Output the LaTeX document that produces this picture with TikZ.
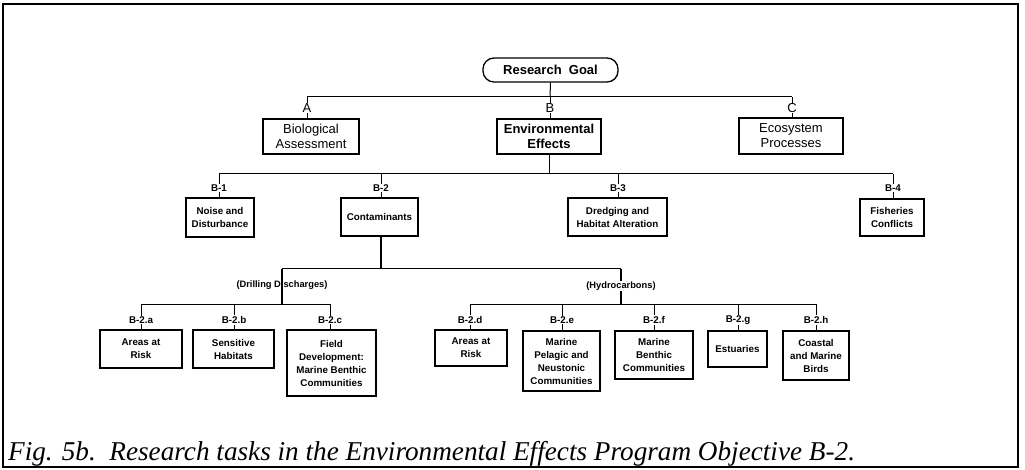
\documentclass[tikz,border=0pt]{standalone}
\usepackage{fontspec}
\setmainfont{Liberation Serif}
\setsansfont{Liberation Sans}
\usetikzlibrary{backgrounds}
\begin{document}
\begin{tikzpicture}[x=1pt,y=-1pt,
  box/.style n args={2}{draw, line width=1.1pt, align=center, inner sep=1pt,
    minimum width=#1, minimum height=#2,
    font=\sffamily\bfseries\fontsize{9.8}{13}\selectfont},
  bigbox/.style n args={2}{draw, line width=1.1pt, align=center, inner sep=1pt,
    minimum width=#1, minimum height=#2,
    font=\sffamily\fontsize{13}{15}\selectfont},
  lab/.style={fill=white, inner sep=1pt, font=\sffamily\bfseries\fontsize{9.8}{10}\selectfont},
  biglab/.style={fill=white, inner sep=0.5pt, font=\sffamily\fontsize{13}{13}\selectfont},
  conn/.style={line width=1pt},
  thick conn/.style={line width=1.8pt}
]
\useasboundingbox (0,0) rectangle (1025,470);
\draw[line width=2pt] (3,4) rectangle (1018,467);

% level 0
\node[draw, line width=1.3pt, rounded corners=11pt, minimum width=135, minimum height=24,
  font=\sffamily\bfseries\fontsize{13}{14}\selectfont] (goal) at (550.5,70) {Research\ \ Goal};
\coordinate (bar1) at (550,97);

% level 1
\node[biglab] (lA) at (307,108) {A};
\node[biglab] (lB) at (550,108) {B};
\node[biglab] (lC) at (792,108) {C};
\node[bigbox={96}{35}] (bio) at (311,136.5) {Biological\\Assessment};
\node[bigbox={104}{35}, line width=2pt, font=\sffamily\bfseries\fontsize{13}{15}\selectfont] (env) at (549,136.5) {Environmental\\Effects};
\node[bigbox={104}{36}] (eco) at (791,136) {Ecosystem\\Processes};

% level 2
\coordinate (bar2) at (550,174);
\node[lab] (l1) at (219,188) {B-1};
\node[lab] (l2) at (381,188) {B-2};
\node[lab] (l3) at (618,188) {B-3};
\node[lab] (l4) at (893,188) {B-4};
\node[box={68}{39}] (noise) at (220,217.5) {Noise and\\Disturbance};
\node[box={77}{38}] (cont) at (379.5,217) {Contaminants};
\node[box={99}{38}] (dredge) at (617.5,217) {Dredging and\\Habitat Alteration};
\node[box={64}{37}] (fish) at (892,217.5) {Fisheries\\Conflicts};

% level 2.5
\coordinate (bar3) at (381,269);
\node[lab, font=\sffamily\bfseries\fontsize{9.3}{10}\selectfont, fill=none] (dd) at (282,285) {(Drilling Discharges)};
\node[lab, font=\sffamily\bfseries\fontsize{9.3}{10}\selectfont] (hc) at (621,286) {(Hydrocarbons)};
\coordinate (bar4) at (282,304);

% level 3
\node[lab] (la) at (141,320) {B-2.a};
\node[lab] (lb) at (234,320) {B-2.b};
\node[lab] (lc) at (330,320) {B-2.c};
\node[lab] (ld) at (470,320) {B-2.d};
\node[lab] (le) at (562,320) {B-2.e};
\node[lab] (lf) at (654,320) {B-2.f};
\node[lab] (lg) at (738,320) {B-2.g};
\node[lab] (lh) at (816,320) {B-2.h};
\node[box={82}{38}] (ra) at (141,349) {Areas at\\Risk};
\node[box={81}{38}] (sh) at (233.5,349) {Sensitive\\Habitats};
\node[box={89}{66}] (fd) at (331.5,363) {Field\\Development:\\Marine Benthic\\Communities};
\node[box={72}{36}] (rd) at (471,348) {Areas at\\Risk};
\node[box={77}{60}] (mp) at (561.5,361) {Marine\\Pelagic and\\Neustonic\\Communities};
\node[box={78}{48}] (mb) at (654,355) {Marine\\Benthic\\Communities};
\node[box={59}{36}] (es) at (737.5,349) {Estuaries};
\node[box={66}{49}] (cb) at (816,355.5) {Coastal\\and Marine\\Birds};

\begin{scope}[on background layer]
  \draw[conn] (goal.south) -- (bar1);
  \draw[conn] (lA |- bar1) -- (lC |- bar1);
  \draw[conn] (lA |- bar1) -- (lA |- bio.north);
  \draw[conn] (lB |- bar1) -- (lB |- env.north);
  \draw[conn] (lC |- bar1) -- (lC |- eco.north);

  \draw[conn] (env.south) -- (env.south |- bar2);
  \draw[conn] (l1 |- bar2) -- (l4 |- bar2);
  \draw[conn] (l1 |- bar2) -- (l1 |- noise.north);
  \draw[conn] (l2 |- bar2) -- (l2 |- cont.north);
  \draw[conn] (l3 |- bar2) -- (l3 |- dredge.north);
  \draw[conn] (l4 |- bar2) -- (l4 |- fish.north);

  \draw[thick conn] (bar3 |- cont.south) -- (bar3);
  \draw[conn] (dd |- bar3) -- (hc |- bar3);
  \draw[thick conn] (dd |- bar3) -- (bar4);
  \draw[thick conn] (hc |- bar3) -- (hc |- bar4);

  \draw[conn] (la |- bar4) -- (lc |- bar4);
  \draw[conn] (ld |- bar4) -- (lh |- bar4);
  \draw[conn] (la |- bar4) -- (la |- ra.north);
  \draw[conn] (lb |- bar4) -- (lb |- sh.north);
  \draw[conn] (lc |- bar4) -- (lc |- fd.north);
  \draw[conn] (ld |- bar4) -- (ld |- rd.north);
  \draw[conn] (le |- bar4) -- (le |- mp.north);
  \draw[conn] (lf |- bar4) -- (lf |- mb.north);
  \draw[conn] (lg |- bar4) -- (lg |- es.north);
  \draw[conn] (lh |- bar4) -- (lh |- cb.north);
\end{scope}

\node[anchor=base west, inner sep=0pt, font=\rmfamily\itshape\fontsize{27.2}{27}\selectfont] (cap) at (8,460)
  {Fig. 5b.\ \ Research tasks in the Environmental Effects Program Objective B-2.};
\end{tikzpicture}
\end{document}
